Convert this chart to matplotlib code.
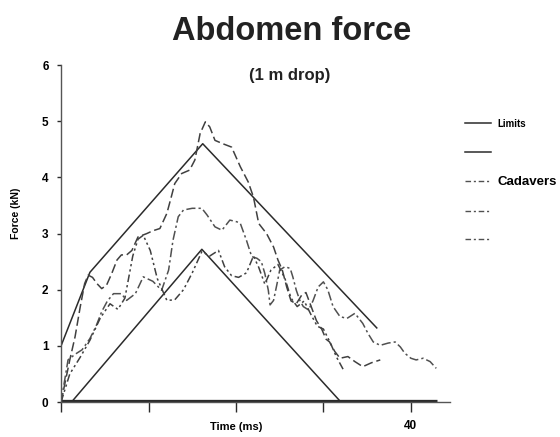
import matplotlib
matplotlib.use("Agg")
import matplotlib.pyplot as plt
from matplotlib.lines import Line2D

plt.rcParams['font.family'] = ['Liberation Sans', 'DejaVu Sans']

# time (ms) and force (kN)
upper_t = [0, 3.3, 16.2, 36.1]
upper_f = [1.0, 2.31, 4.6, 1.32]
lower_t = [1.2, 16.1, 32.0]
lower_f = [0, 2.72, 0]

cad_a_t = [0, 1.0, 1.6, 2.2, 2.7, 3.1, 3.6, 4.1, 4.65, 5.2, 5.8, 6.4, 6.9, 7.5, 8.1,
           8.8, 9.8, 10.5, 11.3, 12.1, 12.6, 13.0, 13.8, 14.7, 15.3, 15.9, 16.5, 17.0,
           17.6, 18.5, 19.5, 20.5, 21.4, 22.0, 22.6, 23.5, 24.3, 24.8, 25.3, 25.8,
           26.3, 26.9, 27.5, 28.0, 28.6, 29.2, 29.8, 30.3, 30.7, 31.3, 31.9, 32.8,
           33.6, 34.5, 35.5, 36.5]
cad_a_f = [0, 0.75, 1.16, 1.70, 2.11, 2.26, 2.22, 2.11, 2.02, 2.08, 2.29, 2.53, 2.62,
           2.62, 2.70, 2.94, 3.0, 3.05, 3.09, 3.36, 3.65, 3.89, 4.07, 4.13, 4.31, 4.78,
           4.99, 4.90, 4.66, 4.60, 4.54, 4.19, 3.92, 3.65, 3.18, 3.0, 2.76, 2.53, 2.35,
           2.05, 1.80, 1.75, 1.90, 1.95, 1.70, 1.45, 1.30, 1.12, 1.07, 0.90, 0.78, 0.81,
           0.72, 0.63, 0.70, 0.75]

cad_b_t = [0, 0.8, 1.6, 2.4, 3.3, 4.0, 4.65, 5.3, 6.0, 6.9, 7.5, 8.5, 9.4, 10.5, 11.5,
           12.3, 12.8, 13.4, 14.0, 15.0, 16.1, 16.7, 17.6, 18.4, 19.3, 20.1, 20.5, 21.2,
           21.8, 22.4, 22.9, 23.3, 23.7, 23.9, 24.3, 24.7, 25.0, 25.6, 26.2, 26.5, 26.9,
           27.3, 27.7, 28.3, 28.8, 29.4, 30.0, 30.5, 31.1, 31.9, 32.7, 33.6, 34.5, 35.1,
           35.7, 36.5, 37.4, 38.2, 38.8, 39.3, 40.0, 40.6, 41.4, 42.2, 42.9]
cad_b_f = [0, 0.75, 0.85, 0.93, 1.13, 1.35, 1.61, 1.80, 1.93, 1.93, 1.81, 1.93, 2.23,
           2.15, 1.99, 2.35, 2.88, 3.30, 3.42, 3.45, 3.45, 3.33, 3.12, 3.06, 3.24, 3.21,
           3.18, 2.88, 2.59, 2.56, 2.50, 2.29, 1.99, 1.73, 1.81, 2.11, 2.35, 2.41, 2.38,
           2.23, 1.99, 1.81, 1.70, 1.64, 1.80, 2.05, 2.14, 2.00, 1.70, 1.52, 1.49, 1.58,
           1.40, 1.22, 1.07, 1.01, 1.05, 1.07, 0.98, 0.87, 0.78, 0.75, 0.78, 0.72, 0.60]

cad_c_t = [0, 1.0, 2.2, 3.3, 4.5, 5.6, 6.5, 7.3, 8.2, 8.8, 9.4, 10.2, 11.0, 12.1, 13.0,
           14.0, 15.0, 16.1, 17.0, 18.0, 18.7, 19.5, 20.3, 21.2, 22.0, 22.6, 23.3, 24.0,
           24.8, 25.6, 26.3, 27.0, 27.8, 28.6, 29.3, 30.0, 30.8, 31.5, 32.3]
cad_c_f = [0, 0.5, 0.8, 1.1, 1.5, 1.75, 1.65, 1.85, 2.6, 2.9, 2.97, 2.7, 2.2, 1.81, 1.82,
           2.0, 2.3, 2.68, 2.6, 2.70, 2.41, 2.25, 2.22, 2.3, 2.6, 2.4, 2.1, 2.35, 2.45,
           2.2, 1.85, 1.70, 1.80, 1.55, 1.35, 1.30, 1.05, 0.80, 0.57]

base_t = [0, 43]
base_f = [0, 0]

x_ticks = [0, 10, 20, 30, 40]
x_tick_labels = ['', '', '', '', '40']
y_ticks = [0, 1, 2, 3, 4, 5, 6]

fig = plt.figure(figsize=(5.6, 4.37), dpi=100)
ax = fig.add_axes([0.109, 0.080, 0.695, 0.771])

ink = '#2b2b2b'
ax.plot(upper_t, upper_f, color=ink, lw=1.1)
ax.plot(lower_t, lower_f, color=ink, lw=1.1)
ax.plot(cad_a_t, cad_a_f, color='#404040', lw=1.1, linestyle=(0, (6, 2.5)))
ax.plot(cad_b_t, cad_b_f, color='#505050', lw=1.1, linestyle=(0, (6, 2, 1.5, 2)))
ax.plot(cad_c_t, cad_c_f, color='#404040', lw=1.1, linestyle=(0, (5, 2, 1.5, 2, 1.5, 2)))
ax.plot(base_t, base_f, color='#2a2a2a', lw=3.8, solid_capstyle='butt')

ax.set_xlim(0, 44.5)
ax.set_ylim(0, 6)
ax.set_xticks(x_ticks)
ax.set_xticklabels(x_tick_labels, fontsize=8.5, fontweight='bold')
ax.set_yticks(y_ticks)
ax.set_yticklabels([str(v) for v in y_ticks], fontsize=8.5, fontweight='bold')
ax.tick_params(axis='x', direction='out', length=7, width=1, pad=6, color=ink)
ax.tick_params(axis='y', direction='out', length=3, width=1, pad=6, color=ink)
for s in ['top', 'right']:
    ax.spines[s].set_visible(False)
for s in ['left', 'bottom']:
    ax.spines[s].set_color('#555555')
    ax.spines[s].set_linewidth(1.0)

ax.set_xlabel('Time (ms)', fontsize=8, fontweight='bold')
ax.xaxis.set_label_coords(0.449, -0.074)
ax.xaxis.label.set_verticalalignment('center')
ax.set_ylabel('Force (kN)', fontsize=7.5, fontweight='bold')
ax.yaxis.set_label_coords(-0.116, 0.561)
ax.yaxis.label.set_verticalalignment('center')

fig.text(0.521, 0.928, 'Abdomen force', ha='center', va='center',
         fontsize=23.5, fontweight='bold', color='#222222')
fig.text(0.518, 0.828, '(1 m drop)', ha='center', va='center',
         fontsize=12, fontweight='bold', color='#222222')

handles = [Line2D([], [], color=ink, lw=1.1),
           Line2D([], [], color=ink, lw=1.1),
           Line2D([], [], color='#505050', lw=1.0, linestyle=(0, (4, 2, 1.5, 2))),
           Line2D([], [], color='#505050', lw=1.0, linestyle=(0, (4, 2, 1.5, 2))),
           Line2D([], [], color='#505050', lw=1.0, linestyle=(0, (4, 2, 1.5, 2)))]
labels = ['Limits', '', 'Cadavers', '', '']
leg = fig.legend(handles, labels, loc='upper left', bbox_to_anchor=(0.830, 0.728),
                 frameon=False, fontsize=7, handlelength=2.7, handletextpad=0.7,
                 labelspacing=1.9, borderpad=0, borderaxespad=0)
for txt in leg.get_texts():
    txt.set_fontweight('bold')
leg.get_texts()[2].set_fontsize(9.5)

fig.savefig('out.png', dpi=100)
